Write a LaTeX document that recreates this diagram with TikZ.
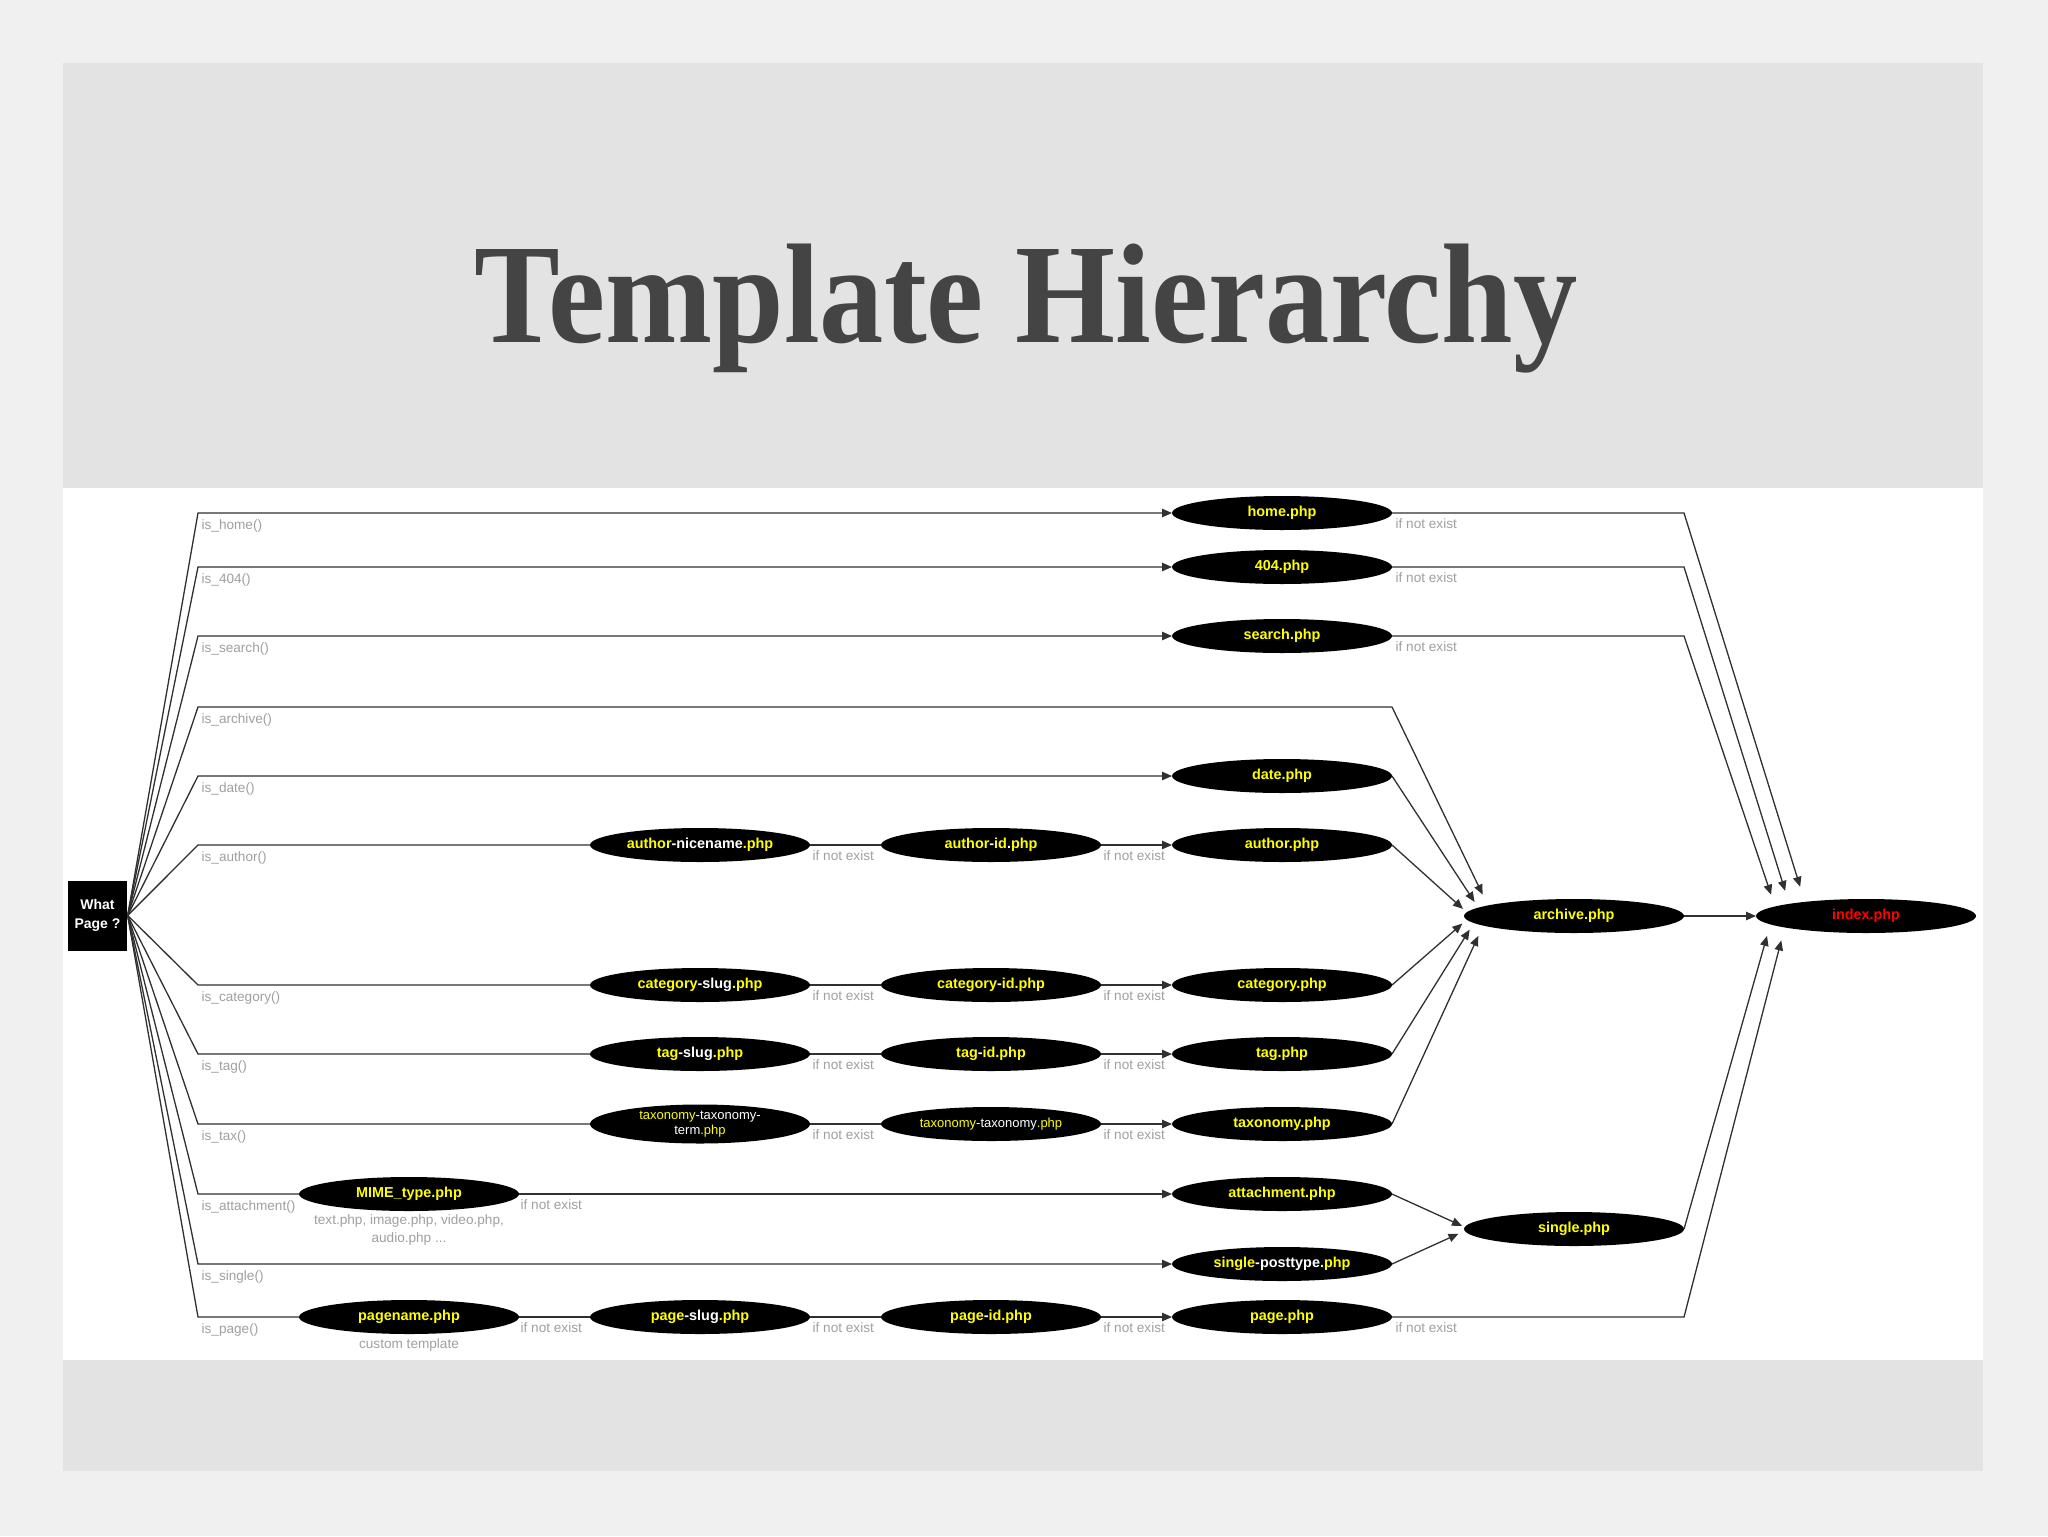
\documentclass[tikz,border=0pt]{standalone}
\usepackage{fontspec}
\setmainfont{Liberation Sans}
\newfontfamily\titlefont{Liberation Serif}
\usetikzlibrary{shapes.geometric,arrows.meta}

\definecolor{pagegray}{RGB}{240,240,240}
\definecolor{panelgray}{RGB}{227,227,228}
\definecolor{titlegray}{RGB}{68,68,68}
\definecolor{linegray}{RGB}{48,48,48}
\definecolor{lblgray}{RGB}{160,160,160}
\definecolor{phpyellow}{RGB}{255,255,0}
\definecolor{phpred}{RGB}{255,0,0}

\tikzset{every picture/.style={line width=0.65pt},
  php/.style={ellipse, fill=black, minimum width=110pt, minimum height=17pt, inner sep=0pt, outer sep=0pt, text=phpyellow, font=\fontsize{7.2}{8}\selectfont\bfseries},
  phptax/.style={php, align=center, font=\fontsize{6.5}{7.4}\selectfont},
  cond/.style={anchor=north west, inner sep=0pt, text=lblgray, font=\fontsize{6.8}{8}\selectfont},
  note/.style={anchor=north, inner sep=0pt, align=center, text=lblgray, font=\fontsize{6.8}{9}\selectfont},
  link/.style={draw=linegray},
  flow/.style={draw=linegray, -{Triangle[length=5pt,width=4.2pt]}}}

\begin{document}
\begin{tikzpicture}[x=0.5pt,y=0.5pt,yscale=-1,xscale=1]
%set diagram left start at 0, and has height of 1536

%Shape: Rectangle [page]
\fill [pagegray] (0,0) rectangle (2048,1536);
%Shape: Rectangle [panel]
\fill [panelgray] (63,63) rectangle (1983,1471);
%Shape: Rectangle [diagram area]
\fill [white] (63,488) rectangle (1983,1360);

% Text Node
\node (title) [anchor=base, inner sep=0pt, text=titlegray] at (1026,342) {\scalebox{0.905}[1]{\titlefont\bfseries\fontsize{71}{71}\selectfont Template Hierarchy}};

%Shape: Rectangle [what page]
\node (what) [fill=black, text=white, minimum width=29.5pt, minimum height=35pt, inner sep=0pt, align=center, font=\fontsize{7}{9.5}\selectfont\bfseries] at (97.5,915.5) {What\\Page ?};

%Shape: Ellipse [first tries]
\node (mime) [php] at (409,1194) {MIME\_type.php};
\node (pagename) [php] at (409,1317) {pagename.php};
%Shape: Ellipse [slug column]
\node (nicename) [php] at (700,845) {author\textcolor{white}{-nicename}.php};
\node (catslug) [php] at (700,985) {category\textcolor{white}{-slug}.php};
\node (tagslug) [php] at (700,1054) {tag\textcolor{white}{-slug}.php};
\node (taxterm) [phptax, minimum height=19.5pt] at (700,1124) {taxonomy\textcolor{white}{-taxonomy-}\\\textcolor{white}{term}.php};
\node (pageslug) [php] at (700,1317) {page\textcolor{white}{-slug}.php};
%Shape: Ellipse [id column]
\node (authorid) [php] at (991,845) {author\textcolor{white}{-}id\textcolor{white}{.}php};
\node (catid) [php] at (991,985) {category\textcolor{white}{-}id.php};
\node (tagid) [php] at (991,1054) {tag\textcolor{white}{-}id.php};
\node (taxtax) [phptax] at (991,1124) {taxonomy\textcolor{white}{-taxonomy}.php};
\node (pageid) [php] at (991,1317) {page\textcolor{white}{-}id.php};
%Shape: Ellipse [type column]
\node (home) [php] at (1282,513) {home.php};
\node (e404) [php] at (1282,567) {404.php};
\node (search) [php] at (1282,636) {search.php};
\node (date) [php] at (1282,776) {date.php};
\node (author) [php] at (1282,845) {author.php};
\node (category) [php] at (1282,985) {category.php};
\node (tag) [php] at (1282,1054) {tag.php};
\node (taxonomy) [php] at (1282,1124) {taxonomy.php};
\node (attachment) [php] at (1282,1194) {attachment.php};
\node (posttype) [php] at (1282,1264) {single\textcolor{white}{-posttype}.php};
\node (page) [php] at (1282,1317) {page.php};
%Shape: Ellipse [fallbacks]
\node (archive) [php] at (1574,916) {archive.php};
\node (single) [php] at (1574,1229) {single.php};
\node (index) [php, text=phpred] at (1866,916) {index.php};

%Straight Lines [fan out of what page]
\draw [flow] (what.east) -- (198,513) -- (home);
\draw [flow] (what.east) -- (198,567) -- (e404);
\draw [flow] (what.east) -- (198,636) -- (search);
\draw [flow, shorten >=6pt] (what.east) -- (198,707) -- (1392,707) -- (archive.173.8);
\draw [flow] (what.east) -- (198,776) -- (date);
\draw [link] (what.east) -- (198,845) -- (nicename);
\draw [link] (what.east) -- (198,985) -- (catslug);
\draw [link] (what.east) -- (198,1054) -- (tagslug);
\draw [link] (what.east) -- (198,1124) -- (taxterm);
\draw [link] (what.east) -- (198,1194) -- (mime);
\draw [flow] (what.east) -- (198,1264) -- (posttype);
\draw [link] (what.east) -- (198,1317) -- (pagename);

%Straight Lines [if not exist chains]
\draw [link] (nicename) -- (authorid);
\draw [flow] (authorid) -- (author);
\draw [link] (catslug) -- (catid);
\draw [flow] (catid) -- (category);
\draw [link] (tagslug) -- (tagid);
\draw [flow] (tagid) -- (tag);
\draw [link] (taxterm) -- (taxtax);
\draw [flow] (taxtax) -- (taxonomy);
\draw [flow] (mime) -- (attachment);
\draw [link] (pagename) -- (pageslug);
\draw [link] (pageslug) -- (pageid);
\draw [flow] (pageid) -- (page);

%Straight Lines [into archive, single, index]
\draw [flow, shorten >=3.4pt] (date.east) -- (archive.175.8);
\draw [flow, shorten >=2.5pt] (author.east) -- (archive.178);
\draw [flow, shorten >=2.9pt] (category.east) -- (archive.182.3);
\draw [flow, shorten >=3.9pt] (tag.east) -- (archive.184.3);
\draw [flow, shorten >=5.7pt] (taxonomy.east) -- (archive.186.1);
\draw [flow, shorten >=1.5pt] (attachment.east) -- (single.179.1);
\draw [flow, shorten >=3.4pt] (posttype.east) -- (single.181.8);
\draw [flow] (archive) -- (index);
\draw [flow, shorten >=7.9pt] (home) -- (1684,513) -- (index.167.4);
\draw [flow, shorten >=6.8pt] (e404) -- (1684,567) -- (index.171.1);
\draw [flow, shorten >=6.2pt] (search) -- (1684,636) -- (index.174.2);
\draw [flow, shorten >=6pt] (single.east) -- (index.185.9);
\draw [flow, shorten >=6.7pt] (page) -- (1684,1317) -- (index.188.8);

% Text Node [conditions]
\node (c-home) [cond] at (201,519) {is\_home()};
\node (c-404) [cond] at (201,573) {is\_404()};
\node (c-search) [cond] at (201,642) {is\_search()};
\node (c-archive) [cond] at (201,713) {is\_archive()};
\node (c-date) [cond] at (201,782) {is\_date()};
\node (c-author) [cond] at (201,851) {is\_author()};
\node (c-category) [cond] at (201,991) {is\_category()};
\node (c-tag) [cond] at (201,1060) {is\_tag()};
\node (c-tax) [cond] at (201,1130) {is\_tax()};
\node (c-attachment) [cond] at (201,1200) {is\_attachment()};
\node (c-single) [cond] at (201,1270) {is\_single()};
\node (c-page) [cond] at (201,1323) {is\_page()};

% Text Node [if not exist]
\node (x-home) [cond] at (1395,518) {if not exist};
\node (x-404) [cond] at (1395,572) {if not exist};
\node (x-search) [cond] at (1395,641) {if not exist};
\node (x-nicename) [cond] at (812,850) {if not exist};
\node (x-authorid) [cond] at (1103,850) {if not exist};
\node (x-catslug) [cond] at (812,990) {if not exist};
\node (x-catid) [cond] at (1103,990) {if not exist};
\node (x-tagslug) [cond] at (812,1059) {if not exist};
\node (x-tagid) [cond] at (1103,1059) {if not exist};
\node (x-taxterm) [cond] at (812,1129) {if not exist};
\node (x-taxtax) [cond] at (1103,1129) {if not exist};
\node (x-mime) [cond] at (520,1199) {if not exist};
\node (x-pagename) [cond] at (520,1322) {if not exist};
\node (x-pageslug) [cond] at (812,1322) {if not exist};
\node (x-pageid) [cond] at (1103,1322) {if not exist};
\node (x-page) [cond] at (1395,1322) {if not exist};

% Text Node [notes]
\node (n-mime) [note] at (409,1214) {text.php, image.php, video.php,\\audio.php ...};
\node (n-pagename) [note] at (409,1338) {custom template};

\end{tikzpicture}
\end{document}
